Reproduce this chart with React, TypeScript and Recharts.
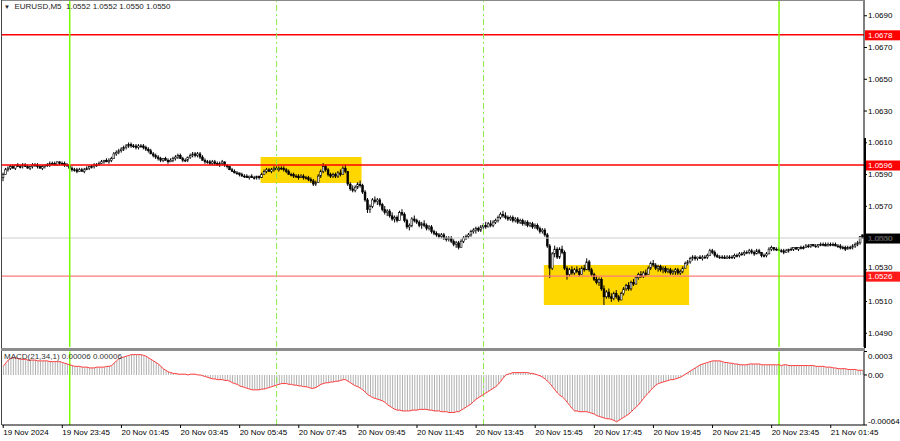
import React from 'react';
import { ComposedChart, Bar, Line, XAxis, YAxis, ReferenceLine, ReferenceArea } from 'recharts';

const FONT = '"Liberation Sans", Arial, sans-serif';

// time axis labels (every 24 M5 bars)
const tickBars = [0, 24, 48, 72, 96, 120, 144, 168, 192, 216, 240, 264, 288, 312, 336];
const tickLabels = ['19 Nov 2024', '19 Nov 23:45', '20 Nov 01:45', '20 Nov 03:45', '20 Nov 05:45', '20 Nov 07:45', '20 Nov 09:45', '20 Nov 11:45', '20 Nov 13:45', '20 Nov 15:45', '20 Nov 17:45', '20 Nov 19:45', '20 Nov 21:45', '20 Nov 23:45', '21 Nov 01:45'];
const priceTicks = [1.049, 1.051, 1.053, 1.055, 1.057, 1.059, 1.061, 1.063, 1.065, 1.067, 1.069];
const macdTicks = [-0.00064, 0, 0.0003];
const macdTickLabels = ['-0.00064', '0.00', '0.0003'];

// key levels
const redLevels = [1.0678, 1.0596];
const lowLevel = 1.0526;
const bidPrice = 1.055;
// session / day separators (bar index)
const daySeparators = [27, 315];
const sessionMarks = [111, 195];
// highlighted zones: [startBar, endBar, low, high]
const zones: [number, number, number, number][] = [
  [105, 145, 1.05847, 1.0601],
  [220, 278, 1.05078, 1.0533],
];

// EURUSD M5 candles [open, high, low, close]
const ohlc: [number, number, number, number][] = [
  [1.0588,1.0591,1.0586,1.0590],[1.0590,1.0594,1.0590,1.0593],[1.0593,1.0595,1.0592,1.0594],[1.0594,1.0596,1.0593,1.0595],[1.0595,1.0596,1.0594,1.0594],
  [1.0594,1.0596,1.0593,1.0596],[1.0596,1.0597,1.0595,1.0595],[1.0595,1.0596,1.0594,1.0595],[1.0595,1.0597,1.0594,1.0596],[1.0596,1.0597,1.0595,1.0595],
  [1.0595,1.0596,1.0594,1.0594],[1.0594,1.0595,1.0593,1.0595],[1.0595,1.0597,1.0594,1.0596],[1.0596,1.0597,1.0595,1.0596],[1.0596,1.0597,1.0594,1.0595],
  [1.0595,1.0596,1.0594,1.0594],[1.0594,1.0596,1.0593,1.0595],[1.0595,1.0596,1.0594,1.0596],[1.0596,1.0597,1.0595,1.0596],[1.0596,1.0598,1.0595,1.0597],
  [1.0597,1.0598,1.0596,1.0597],[1.0597,1.0598,1.0596,1.0596],[1.0596,1.0598,1.0596,1.0598],[1.0598,1.0598,1.0596,1.0597],[1.0597,1.0598,1.0596,1.0597],
  [1.0597,1.0598,1.0595,1.0596],[1.0596,1.0597,1.0595,1.0596],[1.0596,1.0596,1.0593,1.0594],[1.0594,1.0595,1.0592,1.0593],[1.0593,1.0594,1.0592,1.0593],
  [1.0593,1.0594,1.0591,1.0592],[1.0592,1.0594,1.0592,1.0593],[1.0593,1.0594,1.0592,1.0592],[1.0592,1.0594,1.0591,1.0593],[1.0593,1.0595,1.0593,1.0594],
  [1.0594,1.0595,1.0593,1.0595],[1.0595,1.0596,1.0594,1.0595],[1.0595,1.0597,1.0594,1.0596],[1.0596,1.0597,1.0595,1.0596],[1.0596,1.0598,1.0596,1.0597],
  [1.0597,1.0599,1.0597,1.0598],[1.0598,1.0599,1.0597,1.0599],[1.0599,1.0600,1.0598,1.0598],[1.0598,1.0600,1.0597,1.0599],[1.0599,1.0601,1.0598,1.0600],
  [1.0600,1.0604,1.0600,1.0603],[1.0603,1.0605,1.0602,1.0604],[1.0604,1.0606,1.0603,1.0605],[1.0605,1.0607,1.0604,1.0606],[1.0606,1.0608,1.0605,1.0607],
  [1.0607,1.0609,1.0606,1.0608],[1.0608,1.0610,1.0607,1.0609],[1.0609,1.0610,1.0607,1.0608],[1.0608,1.0609,1.0607,1.0608],[1.0608,1.0609,1.0606,1.0607],
  [1.0607,1.0609,1.0606,1.0608],[1.0608,1.0609,1.0607,1.0608],[1.0608,1.0609,1.0606,1.0607],[1.0607,1.0608,1.0605,1.0606],[1.0606,1.0607,1.0604,1.0605],
  [1.0605,1.0606,1.0603,1.0603],[1.0603,1.0604,1.0601,1.0602],[1.0602,1.0603,1.0600,1.0601],[1.0601,1.0602,1.0599,1.0600],[1.0600,1.0601,1.0598,1.0599],
  [1.0599,1.0600,1.0598,1.0600],[1.0600,1.0601,1.0599,1.0599],[1.0599,1.0600,1.0597,1.0598],[1.0598,1.0600,1.0598,1.0599],[1.0599,1.0601,1.0598,1.0600],
  [1.0600,1.0602,1.0599,1.0601],[1.0601,1.0603,1.0600,1.0602],[1.0602,1.0603,1.0600,1.0600],[1.0600,1.0601,1.0598,1.0599],[1.0599,1.0600,1.0598,1.0599],
  [1.0599,1.0601,1.0598,1.0601],[1.0601,1.0603,1.0600,1.0602],[1.0602,1.0604,1.0601,1.0603],[1.0603,1.0604,1.0601,1.0602],[1.0602,1.0604,1.0601,1.0603],
  [1.0603,1.0604,1.0600,1.0601],[1.0601,1.0602,1.0599,1.0599],[1.0599,1.0600,1.0597,1.0598],[1.0598,1.0599,1.0597,1.0598],[1.0598,1.0599,1.0596,1.0597],
  [1.0597,1.0599,1.0596,1.0598],[1.0598,1.0599,1.0596,1.0597],[1.0597,1.0598,1.0596,1.0596],[1.0596,1.0598,1.0595,1.0597],[1.0597,1.0599,1.0596,1.0598],
  [1.0598,1.0598,1.0595,1.0596],[1.0596,1.0596,1.0594,1.0595],[1.0595,1.0595,1.0593,1.0593],[1.0593,1.0594,1.0592,1.0592],[1.0592,1.0593,1.0591,1.0591],
  [1.0591,1.0592,1.0590,1.0591],[1.0591,1.0591,1.0589,1.0590],[1.0590,1.0591,1.0589,1.0589],[1.0589,1.0590,1.0588,1.0589],[1.0589,1.0590,1.0588,1.0588],
  [1.0588,1.0589,1.0587,1.0589],[1.0589,1.0590,1.0588,1.0588],[1.0588,1.0589,1.0587,1.0588],[1.0588,1.0589,1.0587,1.0589],[1.0589,1.0589,1.0587,1.0588],
  [1.0588,1.0591,1.0588,1.0590],[1.0590,1.0593,1.0590,1.0592],[1.0592,1.0594,1.0591,1.0593],[1.0593,1.0594,1.0592,1.0592],[1.0592,1.0594,1.0591,1.0593],
  [1.0593,1.0595,1.0592,1.0594],[1.0594,1.0595,1.0593,1.0593],[1.0593,1.0595,1.0592,1.0594],[1.0594,1.0595,1.0593,1.0594],[1.0594,1.0595,1.0592,1.0593],
  [1.0593,1.0594,1.0591,1.0592],[1.0592,1.0593,1.0590,1.0590],[1.0590,1.0591,1.0589,1.0590],[1.0590,1.0591,1.0588,1.0589],[1.0589,1.0590,1.0588,1.0589],
  [1.0589,1.0590,1.0587,1.0588],[1.0588,1.0590,1.0588,1.0589],[1.0589,1.0590,1.0587,1.0588],[1.0588,1.0589,1.0587,1.0588],[1.0588,1.0589,1.0586,1.0587],
  [1.0587,1.0588,1.0585,1.0586],[1.0586,1.0587,1.0583,1.0584],[1.0584,1.0586,1.0583,1.0585],[1.0585,1.0590,1.0585,1.0589],[1.0589,1.0593,1.0588,1.0592],
  [1.0592,1.0597,1.0591,1.0595],[1.0595,1.0596,1.0592,1.0593],[1.0593,1.0594,1.0589,1.0590],[1.0590,1.0591,1.0588,1.0589],[1.0589,1.0591,1.0588,1.0590],
  [1.0590,1.0591,1.0588,1.0589],[1.0589,1.0592,1.0588,1.0591],[1.0591,1.0593,1.0589,1.0590],[1.0590,1.0595,1.0590,1.0594],[1.0594,1.0596,1.0591,1.0592],
  [1.0592,1.0592,1.0583,1.0584],[1.0584,1.0585,1.0580,1.0581],[1.0581,1.0583,1.0579,1.0580],[1.0580,1.0583,1.0579,1.0582],[1.0582,1.0585,1.0581,1.0584],
  [1.0584,1.0586,1.0582,1.0583],[1.0583,1.0584,1.0578,1.0579],[1.0579,1.0580,1.0573,1.0574],[1.0574,1.0575,1.0566,1.0568],[1.0568,1.0571,1.0566,1.0570],
  [1.0570,1.0575,1.0569,1.0574],[1.0574,1.0576,1.0572,1.0573],[1.0573,1.0575,1.0571,1.0574],[1.0574,1.0575,1.0570,1.0571],[1.0571,1.0572,1.0567,1.0568],
  [1.0568,1.0570,1.0565,1.0566],[1.0566,1.0568,1.0564,1.0567],[1.0567,1.0568,1.0563,1.0564],[1.0564,1.0566,1.0561,1.0562],[1.0562,1.0564,1.0560,1.0563],
  [1.0563,1.0564,1.0560,1.0561],[1.0561,1.0567,1.0561,1.0566],[1.0566,1.0568,1.0564,1.0565],[1.0565,1.0566,1.0560,1.0561],[1.0561,1.0562,1.0556,1.0557],
  [1.0557,1.0559,1.0555,1.0558],[1.0558,1.0563,1.0557,1.0562],[1.0562,1.0564,1.0560,1.0561],[1.0561,1.0562,1.0559,1.0560],[1.0560,1.0561,1.0557,1.0558],
  [1.0558,1.0560,1.0556,1.0559],[1.0559,1.0561,1.0557,1.0558],[1.0558,1.0559,1.0555,1.0556],[1.0556,1.0558,1.0555,1.0557],[1.0557,1.0558,1.0553,1.0554],
  [1.0554,1.0555,1.0552,1.0553],[1.0553,1.0554,1.0551,1.0552],[1.0552,1.0553,1.0550,1.0551],[1.0551,1.0553,1.0550,1.0552],[1.0552,1.0553,1.0549,1.0550],
  [1.0550,1.0551,1.0548,1.0549],[1.0549,1.0551,1.0548,1.0550],[1.0550,1.0551,1.0547,1.0548],[1.0548,1.0549,1.0545,1.0546],[1.0546,1.0548,1.0544,1.0547],
  [1.0547,1.0548,1.0543,1.0544],[1.0544,1.0549,1.0544,1.0548],[1.0548,1.0551,1.0547,1.0550],[1.0550,1.0552,1.0549,1.0551],[1.0551,1.0553,1.0550,1.0552],
  [1.0552,1.0555,1.0551,1.0554],[1.0554,1.0556,1.0553,1.0555],[1.0555,1.0557,1.0553,1.0556],[1.0556,1.0557,1.0554,1.0555],[1.0555,1.0558,1.0554,1.0557],
  [1.0557,1.0559,1.0556,1.0558],[1.0558,1.0560,1.0556,1.0557],[1.0557,1.0560,1.0557,1.0559],[1.0559,1.0561,1.0557,1.0558],[1.0558,1.0561,1.0557,1.0560],
  [1.0560,1.0562,1.0559,1.0561],[1.0561,1.0564,1.0560,1.0563],[1.0563,1.0566,1.0562,1.0565],[1.0565,1.0567,1.0563,1.0564],[1.0564,1.0566,1.0562,1.0563],
  [1.0563,1.0564,1.0561,1.0562],[1.0562,1.0564,1.0561,1.0563],[1.0563,1.0564,1.0560,1.0561],[1.0561,1.0563,1.0560,1.0562],[1.0562,1.0563,1.0559,1.0560],
  [1.0560,1.0562,1.0559,1.0561],[1.0561,1.0562,1.0558,1.0559],[1.0559,1.0561,1.0558,1.0560],[1.0560,1.0561,1.0557,1.0558],[1.0558,1.0560,1.0557,1.0559],
  [1.0559,1.0560,1.0556,1.0557],[1.0557,1.0559,1.0556,1.0558],[1.0558,1.0559,1.0555,1.0556],[1.0556,1.0557,1.0553,1.0554],[1.0554,1.0556,1.0553,1.0555],
  [1.0555,1.0556,1.0551,1.0552],[1.0552,1.0553,1.0544,1.0545],[1.0545,1.0546,1.0525,1.0531],[1.0531,1.0541,1.0530,1.0540],[1.0540,1.0545,1.0538,1.0543],
  [1.0543,1.0544,1.0537,1.0538],[1.0538,1.0544,1.0537,1.0543],[1.0543,1.0545,1.0540,1.0541],[1.0541,1.0542,1.0530,1.0531],[1.0531,1.0532,1.0524,1.0527],
  [1.0527,1.0531,1.0526,1.0530],[1.0530,1.0532,1.0527,1.0528],[1.0528,1.0531,1.0527,1.0530],[1.0530,1.0532,1.0528,1.0529],[1.0529,1.0531,1.0526,1.0527],
  [1.0527,1.0532,1.0527,1.0531],[1.0531,1.0533,1.0529,1.0530],[1.0530,1.0537,1.0530,1.0535],[1.0535,1.0536,1.0529,1.0530],[1.0530,1.0531,1.0526,1.0527],
  [1.0527,1.0528,1.0523,1.0524],[1.0524,1.0526,1.0521,1.0522],[1.0522,1.0525,1.0520,1.0524],[1.0524,1.0525,1.0517,1.0518],[1.0518,1.0520,1.0508,1.0513],
  [1.0513,1.0517,1.0512,1.0516],[1.0516,1.0518,1.0512,1.0513],[1.0513,1.0515,1.0510,1.0512],[1.0512,1.0516,1.0511,1.0515],[1.0515,1.0517,1.0512,1.0513],
  [1.0513,1.0514,1.0510,1.0511],[1.0511,1.0516,1.0511,1.0515],[1.0515,1.0519,1.0514,1.0518],[1.0518,1.0521,1.0517,1.0520],[1.0520,1.0522,1.0517,1.0518],
  [1.0518,1.0523,1.0517,1.0522],[1.0522,1.0524,1.0520,1.0521],[1.0521,1.0526,1.0521,1.0525],[1.0525,1.0528,1.0524,1.0527],[1.0527,1.0529,1.0525,1.0526],
  [1.0526,1.0529,1.0525,1.0528],[1.0528,1.0530,1.0526,1.0527],[1.0527,1.0532,1.0527,1.0531],[1.0531,1.0535,1.0530,1.0534],[1.0534,1.0536,1.0532,1.0533],
  [1.0533,1.0534,1.0530,1.0531],[1.0531,1.0533,1.0529,1.0532],[1.0532,1.0533,1.0529,1.0530],[1.0530,1.0532,1.0528,1.0531],[1.0531,1.0532,1.0528,1.0529],
  [1.0529,1.0531,1.0528,1.0530],[1.0530,1.0531,1.0527,1.0528],[1.0528,1.0530,1.0527,1.0529],[1.0529,1.0531,1.0527,1.0530],[1.0530,1.0531,1.0527,1.0528],
  [1.0528,1.0530,1.0527,1.0529],[1.0529,1.0532,1.0528,1.0531],[1.0531,1.0535,1.0531,1.0534],[1.0534,1.0536,1.0533,1.0535],[1.0535,1.0538,1.0534,1.0537],
  [1.0537,1.0539,1.0536,1.0538],[1.0538,1.0539,1.0536,1.0537],[1.0537,1.0538,1.0536,1.0538],[1.0538,1.0539,1.0537,1.0537],[1.0537,1.0539,1.0536,1.0538],
  [1.0538,1.0539,1.0537,1.0538],[1.0538,1.0540,1.0537,1.0539],[1.0539,1.0543,1.0539,1.0542],[1.0542,1.0543,1.0540,1.0541],[1.0541,1.0542,1.0538,1.0539],
  [1.0539,1.0540,1.0538,1.0538],[1.0538,1.0539,1.0537,1.0538],[1.0538,1.0539,1.0537,1.0538],[1.0538,1.0539,1.0537,1.0537],[1.0537,1.0539,1.0537,1.0538],
  [1.0538,1.0539,1.0537,1.0538],[1.0538,1.0539,1.0537,1.0538],[1.0538,1.0540,1.0537,1.0539],[1.0539,1.0540,1.0538,1.0539],[1.0539,1.0541,1.0538,1.0540],
  [1.0540,1.0541,1.0539,1.0540],[1.0540,1.0542,1.0539,1.0541],[1.0541,1.0542,1.0540,1.0541],[1.0541,1.0543,1.0540,1.0542],[1.0542,1.0543,1.0540,1.0541],
  [1.0541,1.0542,1.0539,1.0540],[1.0540,1.0543,1.0540,1.0542],[1.0542,1.0543,1.0540,1.0541],[1.0541,1.0541,1.0538,1.0539],[1.0539,1.0540,1.0538,1.0539],
  [1.0539,1.0541,1.0538,1.0540],[1.0540,1.0544,1.0540,1.0543],[1.0543,1.0545,1.0542,1.0544],[1.0544,1.0544,1.0542,1.0543],[1.0543,1.0544,1.0542,1.0543],
  [1.0543,1.0544,1.0542,1.0542],[1.0542,1.0543,1.0541,1.0542],[1.0542,1.0543,1.0540,1.0541],[1.0541,1.0543,1.0541,1.0542],[1.0542,1.0543,1.0541,1.0543],
  [1.0543,1.0544,1.0542,1.0543],[1.0543,1.0544,1.0542,1.0544],[1.0544,1.0544,1.0543,1.0543],[1.0543,1.0544,1.0542,1.0544],[1.0544,1.0545,1.0543,1.0544],
  [1.0544,1.0545,1.0543,1.0544],[1.0544,1.0546,1.0544,1.0545],[1.0545,1.0546,1.0544,1.0545],[1.0545,1.0546,1.0544,1.0546],[1.0546,1.0546,1.0545,1.0545],
  [1.0545,1.0546,1.0544,1.0545],[1.0545,1.0546,1.0544,1.0546],[1.0546,1.0547,1.0545,1.0546],[1.0546,1.0547,1.0545,1.0546],[1.0546,1.0547,1.0545,1.0545],
  [1.0545,1.0547,1.0545,1.0546],[1.0546,1.0547,1.0545,1.0546],[1.0546,1.0547,1.0545,1.0546],[1.0546,1.0547,1.0545,1.0545],[1.0545,1.0546,1.0544,1.0545],
  [1.0545,1.0546,1.0543,1.0544],[1.0544,1.0545,1.0543,1.0544],[1.0544,1.0545,1.0542,1.0543],[1.0543,1.0545,1.0543,1.0544],[1.0544,1.0545,1.0543,1.0544],
  [1.0544,1.0546,1.0543,1.0545],[1.0545,1.0547,1.0544,1.0546],[1.0546,1.0548,1.0545,1.0547],[1.0547,1.0551,1.0546,1.0551],[1.0552,1.0552,1.0550,1.0550],
];

// MACD(21,34,1) main values per bar
const macd: number[] = [
  11e-5,15e-5,19e-5,21e-5,22e-5,22e-5,21e-5,20e-5,20e-5,20e-5,
  19e-5,19e-5,19e-5,19e-5,18e-5,18e-5,18e-5,18e-5,18e-5,17e-5,
  17e-5,17e-5,17e-5,17e-5,16e-5,15e-5,14e-5,13e-5,12e-5,11e-5,
  11e-5,11e-5,10e-5,10e-5,10e-5,9e-5,9e-5,9e-5,10e-5,10e-5,
  10e-5,10e-5,11e-5,11e-5,12e-5,15e-5,18e-5,21e-5,22e-5,23e-5,
  24e-5,25e-5,26e-5,26e-5,26e-5,26e-5,26e-5,25e-5,24e-5,22e-5,
  20e-5,18e-5,16e-5,14e-5,11e-5,8e-5,6e-5,4e-5,3e-5,2e-5,
  2e-5,1e-5,1e-5,1e-5,1e-5,0,1e-5,1e-5,1e-5,0,
  0,-1e-5,-2e-5,-3e-5,-4e-5,-5e-5,-5e-5,-6e-5,-6e-5,-6e-5,
  -7e-5,-7e-5,-8e-5,-10e-5,-11e-5,-12e-5,-14e-5,-15e-5,-16e-5,-17e-5,
  -18e-5,-19e-5,-19e-5,-19e-5,-19e-5,-18e-5,-18e-5,-17e-5,-16e-5,-15e-5,
  -14e-5,-13e-5,-12e-5,-11e-5,-11e-5,-11e-5,-12e-5,-12e-5,-13e-5,-13e-5,
  -14e-5,-14e-5,-15e-5,-15e-5,-16e-5,-17e-5,-17e-5,-16e-5,-14e-5,-12e-5,
  -11e-5,-10e-5,-10e-5,-9e-5,-9e-5,-8e-5,-8e-5,-7e-5,-6e-5,-6e-5,
  -8e-5,-10e-5,-12e-5,-14e-5,-15e-5,-17e-5,-19e-5,-22e-5,-25e-5,-27e-5,
  -29e-5,-30e-5,-31e-5,-32e-5,-33e-5,-35e-5,-38e-5,-40e-5,-42e-5,-44e-5,
  -45e-5,-45e-5,-46e-5,-46e-5,-46e-5,-46e-5,-45e-5,-45e-5,-45e-5,-44e-5,
  -44e-5,-44e-5,-44e-5,-45e-5,-45e-5,-46e-5,-46e-5,-46e-5,-47e-5,-47e-5,
  -47e-5,-48e-5,-48e-5,-48e-5,-47e-5,-47e-5,-45e-5,-43e-5,-41e-5,-39e-5,
  -37e-5,-34e-5,-31e-5,-29e-5,-27e-5,-25e-5,-23e-5,-21e-5,-19e-5,-17e-5,
  -15e-5,-12e-5,-8e-5,-4e-5,0,1e-5,2e-5,3e-5,3e-5,3e-5,
  3e-5,3e-5,3e-5,3e-5,2e-5,2e-5,1e-5,0,-1e-5,-3e-5,
  -5e-5,-8e-5,-11e-5,-15e-5,-19e-5,-23e-5,-26e-5,-28e-5,-31e-5,-35e-5,
  -39e-5,-43e-5,-46e-5,-46e-5,-47e-5,-47e-5,-47e-5,-47e-5,-48e-5,-49e-5,
  -50e-5,-52e-5,-53e-5,-54e-5,-55e-5,-56e-5,-56e-5,-57e-5,-58e-5,-60e-5,
  -58e-5,-56e-5,-54e-5,-52e-5,-50e-5,-47e-5,-44e-5,-41e-5,-38e-5,-34e-5,
  -30e-5,-26e-5,-23e-5,-19e-5,-16e-5,-13e-5,-11e-5,-10e-5,-9e-5,-8e-5,
  -7e-5,-6e-5,-6e-5,-5e-5,-4e-5,-3e-5,-1e-5,1e-5,3e-5,5e-5,
  7e-5,9e-5,11e-5,13e-5,14e-5,15e-5,16e-5,17e-5,18e-5,18e-5,
  18e-5,18e-5,17e-5,16e-5,16e-5,15e-5,15e-5,14e-5,14e-5,13e-5,
  13e-5,13e-5,13e-5,14e-5,14e-5,14e-5,14e-5,14e-5,13e-5,13e-5,
  13e-5,13e-5,13e-5,13e-5,13e-5,13e-5,12e-5,13e-5,13e-5,12e-5,
  12e-5,12e-5,12e-5,12e-5,12e-5,12e-5,12e-5,12e-5,12e-5,12e-5,
  11e-5,11e-5,11e-5,11e-5,10e-5,10e-5,10e-5,9e-5,9e-5,8e-5,
  8e-5,8e-5,8e-5,7e-5,7e-5,7e-5,7e-5,6e-5,6e-5,6e-5,
];

const data = ohlc.map(([o, h, l, c], i) => ({ i, o, h, l, c, range: [l, h], macd: macd[i] }));
const taggedLevels = [...redLevels, lowLevel, bidPrice];

const Candle = (props: any) => {
  const { x, y, width, height, payload } = props;
  if (!payload || x == null) return null;
  const { o, h, l, c } = payload;
  let top = y;
  let hh = height;
  if (hh < 0) { top = y + hh; hh = -hh; }
  const span = h - l;
  const py = (p: number) => (span > 0 ? top + ((h - p) / span) * hh : top);
  const cx = x + width / 2;
  const bTop = py(Math.max(o, c));
  const bBot = py(Math.min(o, c));
  const bull = c > o;
  const bw = 1.8;
  return (
    <g>
      <line x1={cx} x2={cx} y1={top - 0.3} y2={top + Math.max(hh, 1) + 0.3} stroke="#000" strokeWidth={1} />
      <rect x={cx - bw / 2} y={bTop} width={bw} height={Math.max(bBot - bTop, 0.8)} fill={bull ? '#fff' : '#000'} stroke="#000" strokeWidth={0.6} />
    </g>
  );
};

const PriceTag = (props: any) => {
  const { viewBox, bg, value } = props;
  if (!viewBox) return null;
  const x0 = viewBox.x + viewBox.width + 1;
  const yc = viewBox.y;
  return (
    <g>
      <rect x={x0} y={yc - 4.5} width={35} height={10} fill={bg} />
      <text x={x0 + 3} y={yc + 3.3} fontSize={8} fill="#fff" fontFamily={FONT}>{value.toFixed(4)}</text>
    </g>
  );
};

// tick labels sitting just above a price tag are lifted slightly so they stay readable
const PriceTick = (props: any) => {
  const { x, y, payload } = props;
  const v = payload.value as number;
  const crowded = taggedLevels.some((t) => v > t && v - t < 0.0006);
  return (
    <text x={x} y={y - (crowded ? 2.5 : 0)} dy="0.32em" fontSize={8} fill="#000" fontFamily={FONT} textAnchor="start">{v.toFixed(4)}</text>
  );
};

const TimeTick = (props: any) => {
  const { x, y, payload } = props;
  const k = tickBars.indexOf(payload.value);
  return (
    <text x={x} y={y} dy="0.71em" fontSize={8} fill="#000" fontFamily={FONT} textAnchor="start">{k >= 0 ? tickLabels[k] : ''}</text>
  );
};

const MacdTick = (props: any) => {
  const { x, y, payload } = props;
  const k = macdTicks.indexOf(payload.value);
  const dy = payload.value > 0 ? 4.5 : payload.value < 0 ? -4 : 0;
  return (
    <text x={x} y={y + dy} dy="0.35em" fontSize={8} fill="#000" fontFamily={FONT} textAnchor="start">{k >= 0 ? macdTickLabels[k] : ''}</text>
  );
};

const vLines = () => [
  ...daySeparators.map((b) => <ReferenceLine key={'d' + b} x={b} stroke="#7CFC00" strokeWidth={1.5} />),
  ...sessionMarks.map((b) => <ReferenceLine key={'s' + b} x={b} stroke="#8EE84A" strokeWidth={1} strokeDasharray="6 3 2 3" />),
];

export default function App() {
  return (
    <div style={{ position: 'absolute', left: 0, top: 0, width: 900, height: 441, background: '#fff', overflow: 'hidden', fontFamily: FONT }}>
      <div style={{ position: 'absolute', left: 0, top: 0 }}>
        <ComposedChart width={900} height={348} data={data} margin={{ top: 1, right: 0, bottom: 1, left: 2 }} barCategoryGap={0}>
          <XAxis dataKey="i" type="category" hide />
          <YAxis
            orientation="right"
            width={36}
            domain={[1.048137, 1.06993]}
            allowDataOverflow
            ticks={priceTicks}
            interval={0}
            tick={<PriceTick />}
            tickSize={3}
            tickMargin={1}
            axisLine={{ stroke: '#000' }}
            tickLine={{ stroke: '#000' }}
          />
          {zones.map(([a, b, lo, hi], k) => (
            <ReferenceArea key={'z' + k} x1={a} x2={b} y1={lo} y2={hi} fill="#FFD700" fillOpacity={1} stroke="none" />
          ))}
          <ReferenceLine y={bidPrice} stroke="#cccccc" strokeWidth={1} label={<PriceTag bg="#000" value={bidPrice} />} />
          {redLevels.map((v) => (
            <ReferenceLine key={'r' + v} y={v} stroke="#ff0000" strokeWidth={1.5} label={<PriceTag bg="#ff0000" value={v} />} />
          ))}
          <ReferenceLine y={lowLevel} stroke="#ff7a7a" strokeWidth={1.2} label={<PriceTag bg="#ff1a1a" value={lowLevel} />} />
          {vLines()}
          <Bar dataKey="range" shape={<Candle />} isAnimationActive={false} />
        </ComposedChart>
      </div>
      <div style={{ position: 'absolute', left: 0, top: 351 }}>
        <ComposedChart width={900} height={90} data={data} margin={{ top: 0.5, right: 0, bottom: 0, left: 2 }} barCategoryGap={0}>
          <XAxis
            dataKey="i"
            type="category"
            ticks={tickBars}
            interval={0}
            height={16}
            tick={<TimeTick />}
            tickSize={3}
            tickMargin={1}
            axisLine={{ stroke: '#000' }}
            tickLine={{ stroke: '#000' }}
          />
          <YAxis
            orientation="right"
            width={36}
            domain={[-0.00064, 0.0003]}
            allowDataOverflow
            ticks={macdTicks}
            interval={0}
            tick={<MacdTick />}
            tickSize={3}
            tickMargin={1}
            axisLine={{ stroke: '#000' }}
            tickLine={{ stroke: '#000' }}
          />
          {vLines()}
          <Bar dataKey="macd" barSize={1} fill="#b0b0b0" isAnimationActive={false} />
          <Line dataKey="macd" type="linear" stroke="#ff3b3b" strokeWidth={1} dot={false} isAnimationActive={false} />
        </ComposedChart>
      </div>
      {/* frame */}
      <div style={{ position: 'absolute', left: 1, top: 0, width: 864, height: 1, background: '#888' }} />
      <div style={{ position: 'absolute', left: 1, top: 0, width: 1, height: 425, background: '#444' }} />
      <div style={{ position: 'absolute', left: 1, top: 348, width: 864, height: 3, background: '#8c8c8c' }} />
      <div style={{ position: 'absolute', left: 864, top: 138, width: 2, height: 210, background: '#000' }} />
      {/* header */}
      <div style={{ position: 'absolute', left: 4, top: 2, fontSize: 8, lineHeight: '10px', color: '#222', whiteSpace: 'pre' }}>
        <span style={{ fontSize: 6 }}>▼</span>{'  EURUSD,M5  1.0552 1.0552 1.0550 1.0550'}
      </div>
      <div style={{ position: 'absolute', left: 4, top: 352, fontSize: 8, lineHeight: '10px', color: '#333', whiteSpace: 'pre' }}>
        {'MACD(21,34,1) 0.00006 0.00006'}
      </div>
    </div>
  );
}
